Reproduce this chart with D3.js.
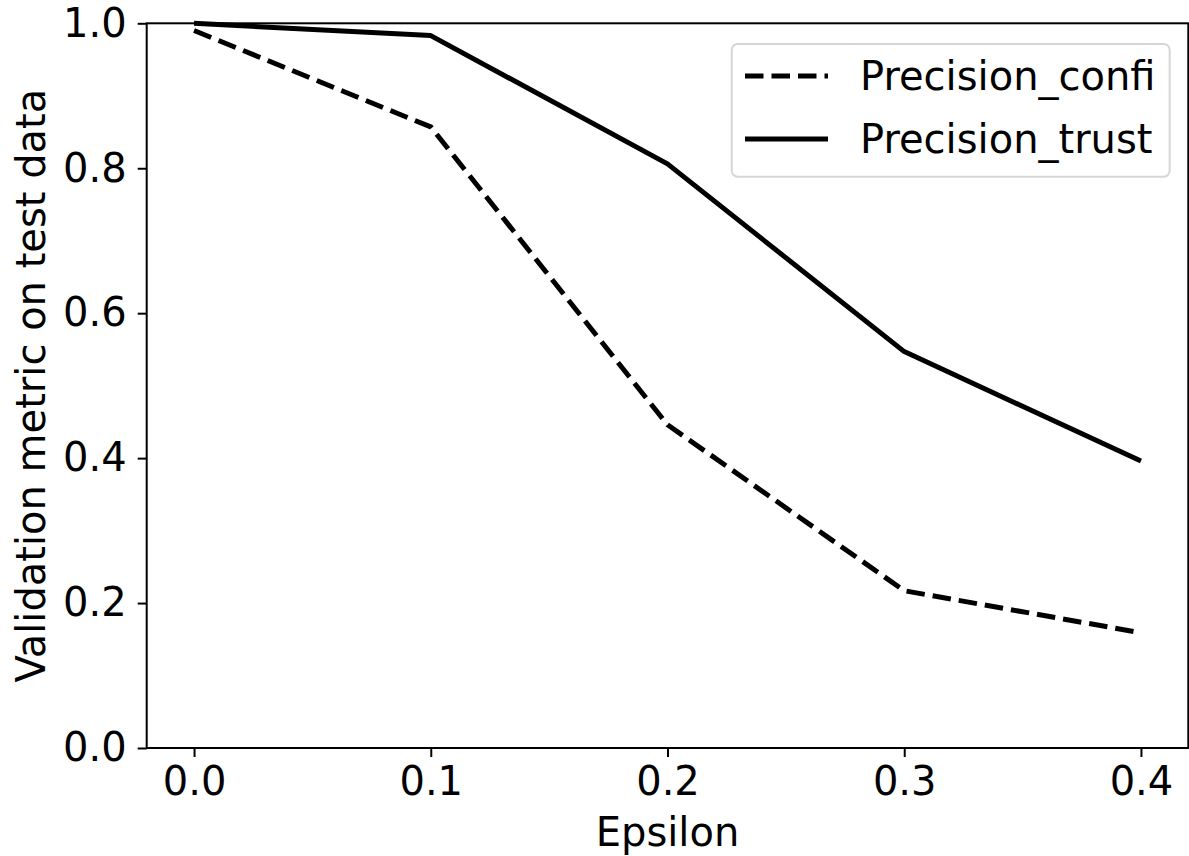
<!DOCTYPE html>
<html>
<head>
<meta charset="utf-8">
<script src="https://cdn.jsdelivr.net/npm/d3@7"></script>
<style>
  body { margin: 0; background: #fff; }
  svg { display: block; font-family: "DejaVu Sans", sans-serif; }
</style>
</head>
<body>
<svg id="chart" width="1189" height="856"></svg>
<script>
// Values
const epsilon = [0.0, 0.1, 0.2, 0.3, 0.4];
const precisionConfi = [0.99, 0.857, 0.446, 0.217, 0.159];
const precisionTrust = [1.0, 0.983, 0.806, 0.547, 0.396];
const xTicks = [0.0, 0.1, 0.2, 0.3, 0.4];
const yTicks = [0.0, 0.2, 0.4, 0.6, 0.8, 1.0];
const seriesNames = ["Precision_confi", "Precision_trust"];

const svg = d3.select("#chart");
const plotLeft = 146.7, plotRight = 1188.3, plotTop = 23.3, plotBottom = 748;

const x = d3.scaleLinear().domain([-0.02, 0.42]).range([plotLeft, plotRight]);
const y = d3.scaleLinear().domain([0, 1]).range([plotBottom, plotTop]);

const fontSize = 40;

// axes
const xAxis = svg.append("g")
  .attr("transform", "translate(0," + plotBottom + ")")
  .call(d3.axisBottom(x).tickValues(xTicks).tickFormat(d3.format(".1f"))
    .tickSize(9).tickSizeOuter(0).tickPadding(10));
const yAxis = svg.append("g")
  .attr("transform", "translate(" + plotLeft + ",0)")
  .call(d3.axisLeft(y).tickValues(yTicks).tickFormat(d3.format(".1f"))
    .tickSize(9).tickSizeOuter(0).tickPadding(11));

[xAxis, yAxis].forEach(function (g) {
  g.select(".domain").remove();
  g.selectAll(".tick line").attr("stroke", "#000").attr("stroke-width", 2);
  g.selectAll(".tick text")
    .attr("fill", "#000")
    .style("font-size", fontSize + "px")
    .style("font-family", "DejaVu Sans");
});

// lines
const line = d3.line()
  .x(function (d) { return x(d[0]); })
  .y(function (d) { return y(d[1]); });

svg.append("path")
  .datum(d3.zip(epsilon, precisionConfi))
  .attr("d", line)
  .attr("fill", "none")
  .attr("stroke", "#000")
  .attr("stroke-width", 5)
  .attr("stroke-dasharray", "18.5,8");

svg.append("path")
  .datum(d3.zip(epsilon, precisionTrust))
  .attr("d", line)
  .attr("fill", "none")
  .attr("stroke", "#000")
  .attr("stroke-width", 5)
  .attr("stroke-linejoin", "round");

// frame
svg.append("rect")
  .attr("x", plotLeft).attr("y", plotTop)
  .attr("width", plotRight - plotLeft).attr("height", plotBottom - plotTop)
  .attr("fill", "none")
  .attr("stroke", "#000")
  .attr("stroke-width", 2);

// axis titles
svg.append("text")
  .attr("x", (plotLeft + plotRight) / 2).attr("y", 846)
  .attr("text-anchor", "middle")
  .style("font-size", fontSize + "px")
  .text("Epsilon");

svg.append("text")
  .attr("transform", "translate(45," + (plotTop + plotBottom) / 2 + ") rotate(-90)")
  .attr("text-anchor", "middle")
  .style("font-size", fontSize + "px")
  .text("Validation metric on test data");

// legend
const legend = svg.append("g");
legend.append("rect")
  .attr("x", 731.7).attr("y", 44)
  .attr("width", 438).attr("height", 132.7)
  .attr("rx", 6).attr("ry", 6)
  .attr("fill", "#fff").attr("fill-opacity", 0.8)
  .attr("stroke", "#d6d6d6").attr("stroke-width", 2);

const dashes = ["18.5,8", null];
seriesNames.forEach(function (name, i) {
  const ly = 76 + i * 63;
  legend.append("line")
    .attr("x1", 745).attr("x2", 828)
    .attr("y1", ly).attr("y2", ly)
    .attr("stroke", "#000").attr("stroke-width", 5)
    .attr("stroke-dasharray", dashes[i]);
  legend.append("text")
    .attr("x", 860).attr("y", ly + 14)
    .style("font-size", fontSize + "px")
    .text(name);
});
</script>
</body>
</html>
